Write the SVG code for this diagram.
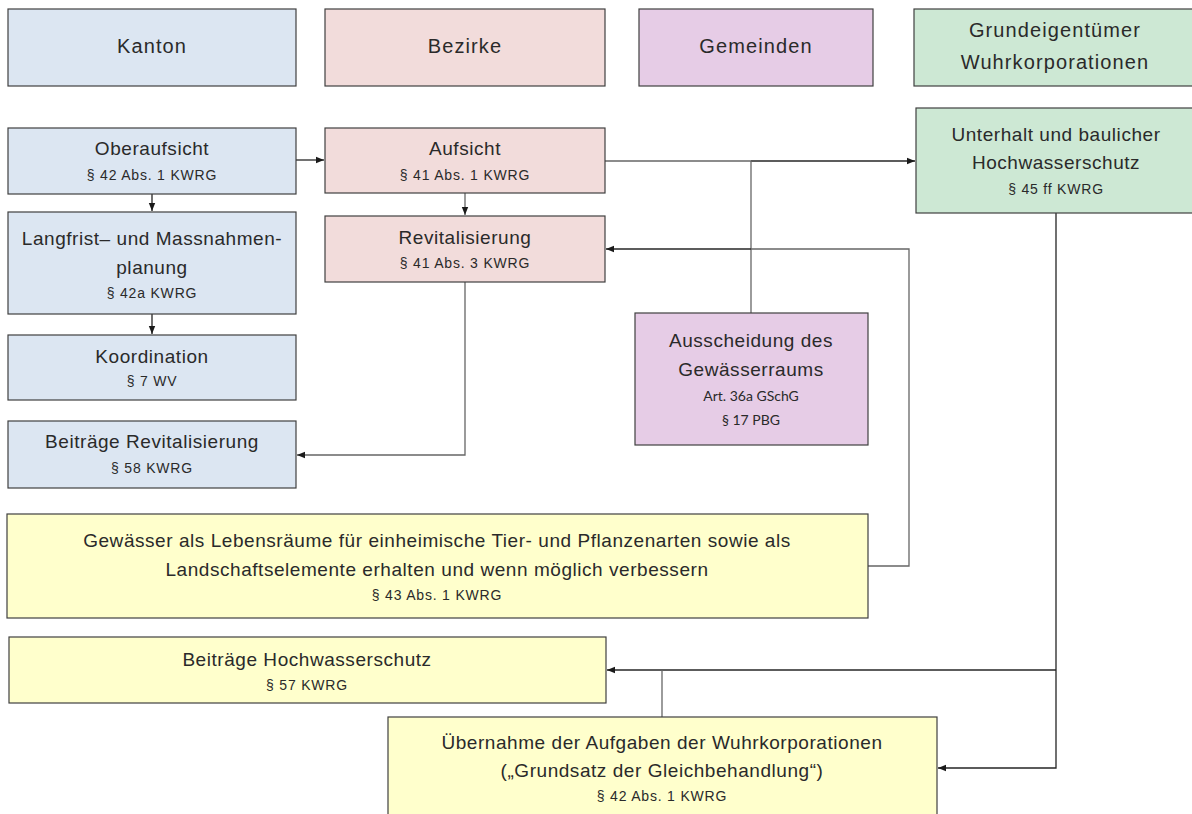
<svg xmlns="http://www.w3.org/2000/svg" width="1192" height="814" viewBox="0 0 1192 814">
<style>
.box{stroke:#404040;stroke-width:1.2}
.k{fill:#dce6f2}.b{fill:#f2dcdb}.g{fill:#e6cce6}.w{fill:#cde8d4}.y{fill:#ffffcc}
text{font-family:"Liberation Sans",Arial,sans-serif;fill:#2a2a2a;text-anchor:middle}
.h{font-size:20px;letter-spacing:1.1px}
.t{font-size:19px;letter-spacing:0.55px}
.s{font-size:14px;letter-spacing:0.8px}
.c{font-family:Lato,"Open Sans",sans-serif;font-size:14px}
.ln{fill:none;stroke:#262626;stroke-width:1.3}
.lg{fill:none;stroke:#666666;stroke-width:1.3}
</style>
<defs>
<marker id="ar" viewBox="0 0 10 10" refX="10" refY="5" markerWidth="8" markerHeight="8" markerUnits="userSpaceOnUse" orient="auto">
<path d="M0,1 L10,5 L0,9 Z" fill="#1a1a1a"/>
</marker>
</defs>
<rect width="1192" height="814" fill="#ffffff"/>
<g id="connectors">
<path class="ln" d="M296,160 H324" marker-end="url(#ar)"/>
<path class="ln" d="M152,194 V211" marker-end="url(#ar)"/>
<path class="ln" d="M152,314 V334" marker-end="url(#ar)"/>
<path class="lg" d="M465,193 V215" marker-end="url(#ar)"/>
<path class="lg" d="M605,161 H751"/>
<path class="ln" d="M751,161 H915" marker-end="url(#ar)"/>
<path class="lg" d="M751,161 V313"/>
<path class="lg" d="M868,566 H909 V249 H751"/>
<path class="ln" d="M751,249 H606" marker-end="url(#ar)"/>
<path class="lg" d="M465,282 V455 H297" marker-end="url(#ar)"/>
<path class="ln" d="M1056,213 V768 H938" marker-end="url(#ar)"/>
<path class="ln" d="M1056,670 H607" marker-end="url(#ar)"/>
<path class="lg" d="M662,670 V717"/>
</g>
<g id="kanton"><rect class="box k" x="8" y="9" width="288" height="77"/><text class="h" x="152" y="53">Kanton</text></g>
<g id="bezirke"><rect class="box b" x="325" y="9" width="280" height="77"/><text class="h" x="465" y="53">Bezirke</text></g>
<g id="gemeinden"><rect class="box g" x="639" y="9" width="234" height="77"/><text class="h" x="756" y="53">Gemeinden</text></g>
<g id="grundeigentuemer"><rect class="box w" x="914" y="9" width="284" height="77"/><text class="h" x="1055" y="37">Grundeigentümer</text><text class="h" x="1055" y="69">Wuhrkorporationen</text></g>
<g id="oberaufsicht"><rect class="box k" x="8" y="128" width="288" height="66"/><text class="t" x="152" y="155">Oberaufsicht</text><text class="s" x="152" y="180">§ 42 Abs. 1 KWRG</text></g>
<g id="aufsicht"><rect class="box b" x="325" y="128" width="280" height="65"/><text class="t" x="465" y="155">Aufsicht</text><text class="s" x="465" y="180">§ 41 Abs. 1 KWRG</text></g>
<g id="unterhalt"><rect class="box w" x="916" y="108" width="282" height="105"/><text class="t" x="1056" y="141">Unterhalt und baulicher</text><text class="t" x="1056" y="169">Hochwasserschutz</text><text class="s" x="1056" y="194">§ 45 ff KWRG</text></g>
<g id="langfrist"><rect class="box k" x="8" y="212" width="288" height="102"/><text class="t" x="152" y="245">Langfrist– und Massnahmen-</text><text class="t" x="152" y="274">planung</text><text class="s" x="152" y="298">§ 42a KWRG</text></g>
<g id="revitalisierung"><rect class="box b" x="325" y="216" width="280" height="66"/><text class="t" x="465" y="244">Revitalisierung</text><text class="s" x="465" y="268">§ 41 Abs. 3 KWRG</text></g>
<g id="koordination"><rect class="box k" x="8" y="335" width="288" height="65"/><text class="t" x="152" y="363">Koordination</text><text class="s" x="152" y="386">§ 7 WV</text></g>
<g id="beitraege-revitalisierung"><rect class="box k" x="8" y="421" width="288" height="67"/><text class="t" x="152" y="448">Beiträge Revitalisierung</text><text class="s" x="152" y="473">§ 58 KWRG</text></g>
<g id="ausscheidung"><rect class="box g" x="635" y="313" width="233" height="132"/><text class="t" x="751" y="347">Ausscheidung des</text><text class="t" x="751" y="376">Gewässerraums</text><text class="c" x="751" y="401">Art. 36a GSchG</text><text class="c" x="751" y="425">§ 17 PBG</text></g>
<g id="gewaesser"><rect class="box y" x="7" y="514" width="861" height="104"/><text class="t" x="437" y="547">Gewässer als Lebensräume für einheimische Tier- und Pflanzenarten sowie als</text><text class="t" x="437" y="576">Landschaftselemente erhalten und wenn möglich verbessern</text><text class="s" x="437" y="600">§ 43 Abs. 1 KWRG</text></g>
<g id="beitraege-hochwasserschutz"><rect class="box y" x="9" y="637" width="597" height="66"/><text class="t" x="307" y="666">Beiträge Hochwasserschutz</text><text class="s" x="307" y="690">§ 57 KWRG</text></g>
<g id="uebernahme"><rect class="box y" x="388" y="717" width="549" height="105"/><text class="t" x="662" y="749">Übernahme der Aufgaben der Wuhrkorporationen</text><text class="t" x="662" y="777">(„Grundsatz der Gleichbehandlung“)</text><text class="s" x="662" y="801">§ 42 Abs. 1 KWRG</text></g>
</svg>
